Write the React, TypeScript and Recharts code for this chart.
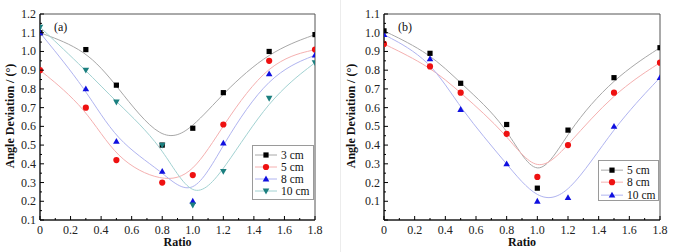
import React from "react"
import { ComposedChart, Line, Scatter, XAxis, YAxis, ReferenceArea, Legend, Label } from "recharts"

// ratio values shared by every series
const ratios = [0, 0.3, 0.5, 0.8, 1.0, 1.2, 1.5, 1.8]

// panel (a)
const a3cm = [1.1, 1.01, 0.82, 0.5, 0.59, 0.78, 1.0, 1.09]
const a5cm = [0.9, 0.7, 0.42, 0.3, 0.34, 0.61, 0.95, 1.01]
const a8cm = [1.1, 0.8, 0.52, 0.36, 0.2, 0.51, 0.88, 0.98]
const a10cm = [1.13, 0.9, 0.73, 0.5, 0.18, 0.36, 0.75, 0.94]

// panel (b)
const b5cm = [1.01, 0.89, 0.73, 0.51, 0.17, 0.48, 0.76, 0.92]
const b8cm = [0.94, 0.82, 0.68, 0.46, 0.23, 0.4, 0.68, 0.84]
const b10cm = [0.99, 0.86, 0.59, 0.3, 0.1, 0.12, 0.5, 0.76]

const xTicks = [0, 0.1, 0.2, 0.3, 0.4, 0.5, 0.6, 0.7, 0.8, 0.9, 1.0, 1.1, 1.2, 1.3, 1.4, 1.5, 1.6, 1.7, 1.8]
const yTicksA = [0.1, 0.15, 0.2, 0.25, 0.3, 0.35, 0.4, 0.45, 0.5, 0.55, 0.6, 0.65, 0.7, 0.75, 0.8, 0.85, 0.9, 0.95, 1.0, 1.05, 1.1, 1.15, 1.2]
const yTicksB = [0, 0.05, 0.1, 0.15, 0.2, 0.25, 0.3, 0.35, 0.4, 0.45, 0.5, 0.55, 0.6, 0.65, 0.7, 0.75, 0.8, 0.85, 0.9, 0.95, 1.0, 1.05, 1.1]

const FONT = "Liberation Serif, Times New Roman, serif"

type Shape = "square" | "circle" | "up" | "down"

interface SeriesDef {
  name: string
  values: number[]
  color: string
  curve: string
  shape: Shape
}

const seriesA: SeriesDef[] = [
  { name: "3 cm", values: a3cm, color: "#000000", curve: "#a8a8a8", shape: "square" },
  { name: "5 cm", values: a5cm, color: "#ee1111", curve: "#f5b0b0", shape: "circle" },
  { name: "8 cm", values: a8cm, color: "#1010e0", curve: "#b0b4f0", shape: "up" },
  { name: "10 cm", values: a10cm, color: "#1b7f7f", curve: "#a2d2d2", shape: "down" },
]

const seriesB: SeriesDef[] = [
  { name: "5 cm", values: b5cm, color: "#000000", curve: "#a8a8a8", shape: "square" },
  { name: "8 cm", values: b8cm, color: "#ee1111", curve: "#f5b0b0", shape: "circle" },
  { name: "10 cm", values: b10cm, color: "#1010e0", curve: "#b0b4f0", shape: "up" },
]

function Marker({ cx, cy, shape, color }: { cx: number; cy: number; shape: Shape; color: string }) {
  if (cx == null || cy == null) return null
  if (shape === "square") return <rect x={cx - 2.6} y={cy - 2.6} width={5.2} height={5.2} fill={color} />
  if (shape === "circle") return <circle cx={cx} cy={cy} r={3.1} fill={color} />
  if (shape === "up")
    return <polygon points={`${cx},${cy - 3.4} ${cx - 3.3},${cy + 2.4} ${cx + 3.3},${cy + 2.4}`} fill={color} />
  return <polygon points={`${cx},${cy + 3.4} ${cx - 3.3},${cy - 2.4} ${cx + 3.3},${cy - 2.4}`} fill={color} />
}

const XTick = (props: any) => {
  const { x, y, payload } = props
  const v: number = payload.value
  const major = Math.round(v * 10) % 2 === 0
  const label = v === 0 ? "0" : v.toFixed(1)
  return (
    <g>
      <line x1={x} x2={x} y1={y} y2={y - (major ? 4 : 2)} stroke="#000" />
      {major && (
        <text x={x} y={y + 14} textAnchor="middle" fontFamily={FONT} fontSize={12} fill="#222">
          {label}
        </text>
      )}
    </g>
  )
}

const makeYTick = (hideZero: boolean) => (props: any) => {
  const { x, y, payload } = props
  const v: number = payload.value
  const major = Math.round(v * 20) % 2 === 0
  return (
    <g>
      <line x1={x} x2={x + (major ? 4 : 2)} y1={y} y2={y} stroke="#000" />
      {major && !(hideZero && v === 0) && (
        <text x={x - 4} y={y + 4} textAnchor="end" fontFamily={FONT} fontSize={12} fill="#222">
          {v.toFixed(1)}
        </text>
      )}
    </g>
  )
}

const makeLegend = (series: SeriesDef[], left: number, top: number, width: number, height: number, rowH: number) => () =>
  (
    <div
      style={{
        position: "absolute",
        left,
        top,
        width,
        height,
        boxSizing: "border-box",
        border: "1px solid #9a9a9a",
        background: "#fff",
        padding: "3px 0 0 1px",
        fontFamily: FONT,
        fontSize: 11.5,
        color: "#111",
        whiteSpace: "nowrap",
      }}
    >
      {series.map((s) => (
        <div key={s.name} style={{ display: "flex", alignItems: "center", height: rowH, lineHeight: `${rowH}px` }}>
          <svg width={24} height={rowH} style={{ marginRight: 3, flexShrink: 0 }}>
            <line x1={1} x2={23} y1={rowH / 2} y2={rowH / 2} stroke={s.curve} />
            <Marker cx={12} cy={rowH / 2} shape={s.shape} color={s.color} />
          </svg>
          <span>{s.name}</span>
        </div>
      ))}
    </div>
  )

interface PanelProps {
  tag: string
  series: SeriesDef[]
  width: number
  plotLeft: number
  plotRight: number
  yDomain: [number, number]
  yTicks: number[]
  hideZero: boolean
  legend: () => React.ReactElement
  yLabelX: number
}

const AXIS_W = 30
const AXIS_H = 20

function Panel({ tag, series, width, plotLeft, plotRight, yDomain, yTicks, hideZero, legend, yLabelX }: PanelProps) {
  const rows = series.map((s) => ratios.map((r, i) => ({ x: r, y: s.values[i] })))
  const margin = { top: 14, right: width - plotRight, bottom: 252 - 220 - AXIS_H, left: plotLeft - AXIS_W }
  return (
    <ComposedChart width={width} height={252} margin={margin}>
      <XAxis
        type="number"
        dataKey="x"
        domain={[0, 1.8]}
        ticks={xTicks}
        interval={0}
        height={AXIS_H}
        tickSize={0}
        tickMargin={0}
        tickLine={false}
        tick={XTick}
        stroke="#000"
        allowDataOverflow
      >
        <Label
          content={() => (
            <text
              x={(plotLeft + plotRight) / 2}
              y={246}
              textAnchor="middle"
              fontFamily={FONT}
              fontWeight="bold"
              fontSize={12}
              fill="#111"
            >
              Ratio
            </text>
          )}
        />
      </XAxis>
      <YAxis
        type="number"
        dataKey="y"
        domain={yDomain}
        ticks={yTicks}
        interval={0}
        width={AXIS_W}
        tickSize={0}
        tickMargin={0}
        tickLine={false}
        tick={makeYTick(hideZero)}
        stroke="#000"
        allowDataOverflow
      >
        <Label
          content={() => (
            <text
              x={yLabelX}
              y={116}
              transform={`rotate(-90, ${yLabelX}, 116)`}
              textAnchor="middle"
              fontFamily={FONT}
              fontWeight="bold"
              fontSize={12}
              fill="#111"
            >
              Angle Deviation / (°)
            </text>
          )}
        />
      </YAxis>
      <ReferenceArea
        x1={0}
        x2={1.8}
        y1={yDomain[0]}
        y2={yDomain[1]}
        fill="none"
        fillOpacity={0}
        stroke="#555"
        strokeWidth={1}
        label={{ value: tag, position: "insideTopLeft", offset: 8, fontFamily: FONT, fontSize: 12, fill: "#111", dx: 6 }}
      />
      {series.map((s, i) => (
        <Line
          key={"l" + s.name}
          data={rows[i]}
          dataKey="y"
          type="basis"
          stroke={s.curve}
          strokeWidth={1}
          dot={false}
          activeDot={false}
          isAnimationActive={false}
        />
      ))}
      {series.map((s, i) => (
        <Scatter
          key={"s" + s.name}
          data={rows[i]}
          dataKey="y"
          isAnimationActive={false}
          shape={(p: any) => <Marker cx={p.cx} cy={p.cy} shape={s.shape} color={s.color} />}
        />
      ))}
      <Legend layout="horizontal" align="center" verticalAlign="middle" content={legend} wrapperStyle={{ left: 0, top: 0, width: 0, height: 0 }} />
    </ComposedChart>
  )
}

export default function App() {
  return (
    <div style={{ position: "absolute", left: 0, top: 0, width: 687, height: 252, background: "#fff", overflow: "hidden" }}>
      <div style={{ position: "absolute", left: 0, top: 0 }}>
        <Panel
          tag="(a)"
          series={seriesA}
          width={342}
          plotLeft={40}
          plotRight={315}
          yDomain={[0.1, 1.2]}
          yTicks={yTicksA}
          hideZero={false}
          legend={makeLegend(seriesA, 252, 145, 62, 55, 12)}
          yLabelX={14}
        />
      </div>
      <div style={{ position: "absolute", left: 340, top: 0, width: 1, height: 252, background: "#ececec" }} />
      <div style={{ position: "absolute", left: 342, top: 0 }}>
        <Panel
          tag="(b)"
          series={seriesB}
          width={345}
          plotLeft={42}
          plotRight={318}
          yDomain={[0, 1.1]}
          yTicks={yTicksB}
          hideZero={true}
          legend={makeLegend(seriesB, 256, 160, 61, 41, 12.3)}
          yLabelX={13}
        />
      </div>
    </div>
  )
}
